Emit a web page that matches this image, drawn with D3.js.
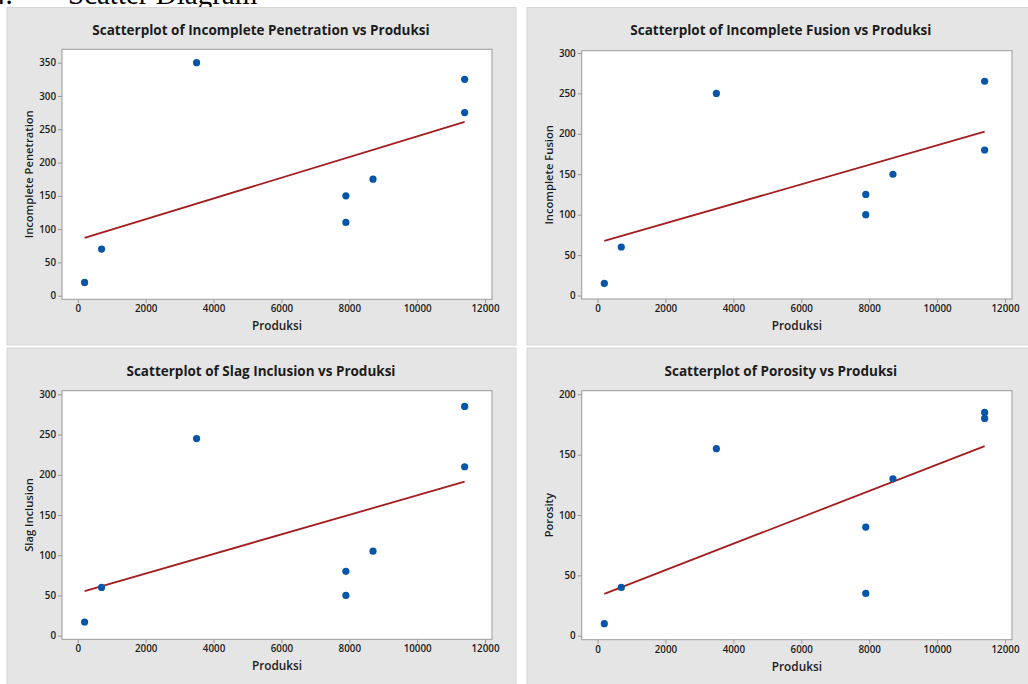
<!DOCTYPE html>
<html><head><meta charset="utf-8">
<script src="https://cdn.jsdelivr.net/npm/d3@7"></script>
<style>body{margin:0;background:#fff}svg{display:block}</style>
</head><body><svg id="c" width="1028" height="684"></svg>
<script>
// ---- data ----
const produksi = [200, 700, 3500, 7900, 7900, 8700, 11400, 11400];
const incompletePenetration = [20, 70, 350, 150, 110, 175, 325, 275];
const incompleteFusion = [15, 60, 250, 125, 100, 150, 265, 180];
const slagInclusion = [17, 60, 245, 80, 50, 105, 285, 210];
const porosity = [10, 40, 155, 35, 90, 130, 185, 180];
const xTicks = [0, 2000, 4000, 6000, 8000, 10000, 12000];
const yTicksPenetration = [0, 50, 100, 150, 200, 250, 300, 350];
const yTicksFusion = [0, 50, 100, 150, 200, 250, 300];
const yTicksSlag = [0, 50, 100, 150, 200, 250, 300];
const yTicksPorosity = [0, 50, 100, 150, 200];
const yNames = ["Incomplete Penetration", "Incomplete Fusion", "Slag Inclusion", "Porosity"];
const xName = "Produksi";
const heading = "Scatter Diagram";

// ---- layout ----
const panels = [
  {yName: yNames[0], y: incompletePenetration, ticks: yTicksPenetration, yDom: [-5.4, 370.1],
   bg: [7, 7.5, 509, 337.5], fr: [62, 49.3, 492, 299.3]},
  {yName: yNames[1], y: incompleteFusion, ticks: yTicksFusion, yDom: [-4.3, 302.8],
   bg: [527, 7.5, 509, 337.5], fr: [581.7, 50.7, 1012, 299]},
  {yName: yNames[2], y: slagInclusion, ticks: yTicksSlag, yDom: [-4.5, 304.5],
   bg: [7, 348, 509, 340], fr: [62, 390.7, 492, 639.3]},
  {yName: yNames[3], y: porosity, ticks: yTicksPorosity, yDom: [-3.3, 203],
   bg: [527, 348, 509, 340], fr: [581.7, 390.7, 1012, 639.7]}
];
const xDom = [-466, 12206];
const FONT = "'Open Sans', 'Noto Sans', sans-serif";
const TXT = "#1c1c1c", AX = "#9a9a9a", DOT = "#0556a8", LINE = "#a31c20";

const svg = d3.select("#c");

svg.append("text").attr("x", 68).attr("y", 4)
  .attr("font-family", "'Liberation Serif','Times New Roman',serif").attr("font-size", 29)
  .attr("fill", "#000").text(heading);
svg.append("text").attr("x", -9).attr("y", 4)
  .attr("font-family", "'Liberation Serif','Times New Roman',serif").attr("font-size", 29)
  .attr("fill", "#000").text("4.");

function linreg(xs, ys) {
  const mx = d3.mean(xs), my = d3.mean(ys);
  let sxy = 0, sxx = 0;
  xs.forEach((x, i) => { sxy += (x - mx) * (ys[i] - my); sxx += (x - mx) * (x - mx); });
  const b = sxy / sxx;
  return x => my + b * (x - mx);
}

panels.forEach(p => {
  const g = svg.append("g");
  const [bx, by, bw, bh] = p.bg;
  g.append("rect").attr("x", bx).attr("y", by).attr("width", bw).attr("height", bh)
    .attr("fill", "#e5e5e5").attr("stroke", "#d6d6d6").attr("stroke-width", 1);
  const [l, t, r, b] = p.fr;
  const x = d3.scaleLinear().domain(xDom).range([l, r]);
  const y = d3.scaleLinear().domain(p.yDom).range([b, t]);
  g.append("rect").attr("x", l).attr("y", t).attr("width", r - l).attr("height", b - t)
    .attr("fill", "#fff").attr("stroke", AX).attr("stroke-width", 1);

  const xa = g.append("g").attr("transform", `translate(0,${b})`)
    .call(d3.axisBottom(x).tickValues(xTicks).tickSize(4).tickPadding(2).tickFormat(d3.format("d")));
  const ya = g.append("g").attr("transform", `translate(${l},0)`)
    .call(d3.axisLeft(y).tickValues(p.ticks).tickSize(4).tickPadding(2).tickFormat(d3.format("d")));
  [xa, ya].forEach(a => {
    a.select(".domain").remove();
    a.selectAll("line").attr("stroke", AX);
    a.selectAll("text").attr("font-family", FONT).attr("font-size", 9.8).attr("font-weight", 600).attr("fill", TXT);
  });

  const cx = (l + r) / 2, cy = (t + b) / 2;
  g.append("text").attr("x", cx - 16).attr("y", by + 27.5).attr("text-anchor", "middle")
    .attr("font-family", FONT).attr("font-size", 13.5).attr("font-weight", 700).attr("fill", TXT)
    .text(`Scatterplot of ${p.yName} vs ${xName}`);
  g.append("text").attr("x", cx).attr("y", b + 31).attr("text-anchor", "middle")
    .attr("font-family", FONT).attr("font-size", 11.8).attr("font-weight", 600).attr("fill", TXT)
    .text(xName);
  g.append("text").attr("transform", `translate(${l - 29},${cy}) rotate(-90)`).attr("text-anchor", "middle")
    .attr("font-family", FONT).attr("font-size", 11.2).attr("font-weight", 600).attr("fill", TXT)
    .text(p.yName);

  const f = linreg(produksi, p.y);
  const x0 = d3.min(produksi), x1 = d3.max(produksi);
  g.append("line").attr("x1", x(x0)).attr("y1", y(f(x0))).attr("x2", x(x1)).attr("y2", y(f(x1)))
    .attr("stroke", LINE).attr("stroke-width", 1.8);

  g.selectAll("circle").data(produksi.map((v, i) => [v, p.y[i]])).join("circle")
    .attr("cx", d => x(d[0])).attr("cy", d => y(d[1])).attr("r", 3.6).attr("fill", DOT);
});
</script></body></html>
